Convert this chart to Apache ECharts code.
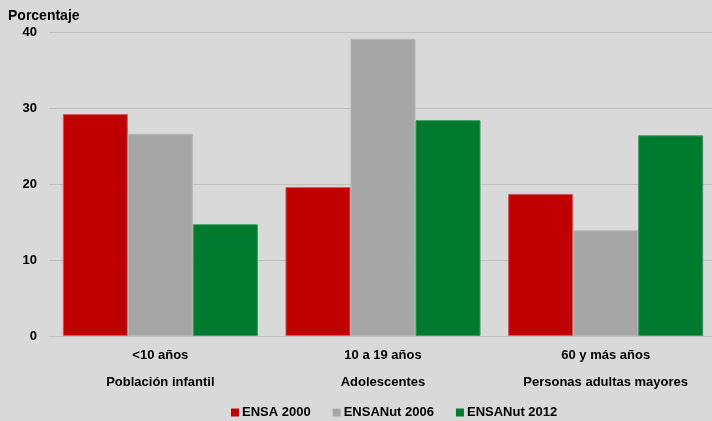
<!DOCTYPE html>
<html><head><meta charset="utf-8">
<script src="https://cdn.jsdelivr.net/npm/echarts@6/dist/echarts.min.js"></script>
<style>html,body{margin:0;padding:0;background:#d9d9d9;overflow:hidden}#c{width:720px;height:421px}</style>
</head><body><div id="c"></div>
<script>
const categories = ['<10 años\nPoblación infantil', '10 a 19 años\nAdolescentes', '60 y más años\nPersonas adultas mayores'];
const seriesNames = ['ENSA 2000', 'ENSANut 2006', 'ENSANut 2012'];
const ensa2000 = [29.2, 19.6, 18.7];
const ensanut2006 = [26.6, 39.1, 13.9];
const ensanut2012 = [14.7, 28.4, 26.4];
const yTicks = [0, 10, 20, 30, 40];
const colors = ['#c00000', '#a6a6a6', '#007a2e'];
const borders = ['#d0595a', '#b5b5b5', '#3a9a5e'];
const font = '"Liberation Sans", Arial, sans-serif';
const chart = echarts.init(document.getElementById('c'));
const data = [ensa2000, ensanut2006, ensanut2012];
chart.setOption({
  backgroundColor: '#d9d9d9',
  animation: false,
  textStyle: {fontFamily: font, fontWeight: 'bold', color: '#000'},
  title: {text: 'Porcentaje', left: 3, top: 4, textStyle: {fontFamily: font, fontWeight: 'bold', fontSize: 14, color: '#000'}},
  grid: {left: 49, right: 3, top: 32, bottom: 85},
  legend: {
    data: seriesNames, bottom: -3, left: 226, itemWidth: 8, itemHeight: 8, itemGap: 22,
    icon: 'rect',
    itemStyle: {borderWidth: 0},
    textStyle: {fontFamily: font, fontWeight: 'bold', fontSize: 13, color: '#000', padding: [0, 0, 0, -2]}
  },
  xAxis: {
    type: 'category', data: categories,
    axisLine: {show: true, lineStyle: {color: '#bfbfbf', width: 1}},
    axisTick: {show: false},
    axisLabel: {fontFamily: font, fontWeight: 'bold', fontSize: 13, color: '#000', lineHeight: 27, margin: 6}
  },
  yAxis: {
    type: 'value', min: 0, max: 40, interval: 10,
    axisLine: {show: false}, axisTick: {show: false},
    splitLine: {lineStyle: {color: '#bfbfbf', width: 1}},
    axisLabel: {fontFamily: font, fontWeight: 'bold', fontSize: 13, color: '#000', margin: 12,
      formatter: v => yTicks.includes(v) ? String(v) : ''}
  },
  series: seriesNames.map((n, i) => ({
    name: n, type: 'bar', data: data[i], barGap: '0%', barCategoryGap: '12.4%',
    itemStyle: {color: colors[i], borderColor: borders[i], borderWidth: 1}
  }))
});
</script></body></html>
